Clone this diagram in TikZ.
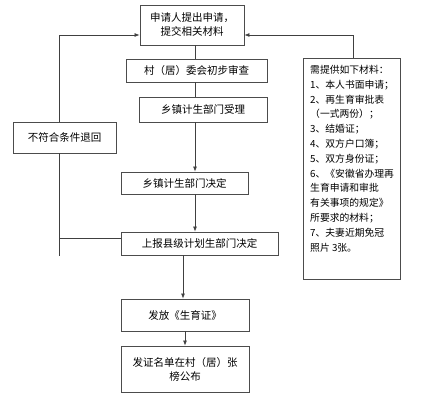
\documentclass[tikz,border=0pt]{standalone}
\usepackage{fontspec}
\setmainfont{Noto Sans CJK SC}
\usetikzlibrary{arrows.meta}
\begin{document}
\begin{tikzpicture}[x=1pt, y=-1pt,
  stepbox/.style={draw=black!70, line width=0.9pt, inner sep=0pt, align=center, font=\fontsize{10.5}{14}\selectfont},
  link/.style={draw=black!75, line width=0.7pt},
  arr/.style={link, -{Latex[length=5pt,width=4pt]}}]
\useasboundingbox[fill=white] (0,0) rectangle (446,400);
\node[stepbox, minimum width=104, minimum height=40] (apply) at (192,25){申请人提出申请，\\提交相关材料};
\node[stepbox, minimum width=141, minimum height=23] (vcheck) at (196.5,70.5){村（居）委会初步审查};
\node[stepbox, minimum width=128, minimum height=25] (taccept) at (203,109.5){乡镇计生部门受理};
\node[stepbox, minimum width=103, minimum height=31] (reject) at (64.5,137.5){不符合条件退回};
\node[stepbox, minimum width=127, minimum height=22] (tdecide) at (184.5,183){乡镇计生部门决定};
\node[stepbox, minimum width=157, minimum height=23] (cdecide) at (199.5,243.5){上报县级计划生部门决定};
\node[stepbox, minimum width=128, minimum height=32] (issue) at (185,315){发放《生育证》};
\node[stepbox, minimum width=128, minimum height=46] (publish) at (185,369){发证名单在村（居）张\\榜公布};
\node[stepbox, minimum width=97, minimum height=221] (docs) at (351.5,168.5){};
\node[anchor=north west, inner sep=0pt, align=left, font=\fontsize{9.8}{14.8}\selectfont] (doctext) at (310,65){需提供如下材料：\\1、本人书面申请；\\2、再生育审批表\\（一式两份）；\\3、结婚证；\\4、双方户口簿；\\5、双方身份证；\\6、《安徽省办理再\\生育申请和审批\\有关事项的规定》\\所要求的材料；\\7、夫妻近期免冠\\照片 3张。};
\coordinate (spine) at (195,0);
\coordinate (tail) at (59,256);
\coordinate (branch) at ([yshift=5.5pt]cdecide.west);
\draw[link] (apply.south -| spine) -- (vcheck.north -| spine);
\draw[link] (vcheck.south -| spine) -- (taccept.north -| spine);
\draw[arr] (taccept.south -| spine) -- (tdecide.north -| spine);
\draw[arr] (tdecide.south -| spine) -- (cdecide.north -| spine);
\draw[arr] ([xshift=-2pt]cdecide.south -| issue) -- ([xshift=-2pt]issue.north);
\draw[arr] (issue.south) -- (publish.north);
\draw[arr] ([xshift=-5.5pt]reject.north) |- ([yshift=-10pt]apply.west);
\draw[arr] ([xshift=1.5pt]docs.north) |- ([yshift=-10pt]apply.east);
\draw[link] ([xshift=-5.5pt]reject.south) -- (tail);
\draw[link] (tail |- branch) -- (branch);
\end{tikzpicture}
\end{document}
